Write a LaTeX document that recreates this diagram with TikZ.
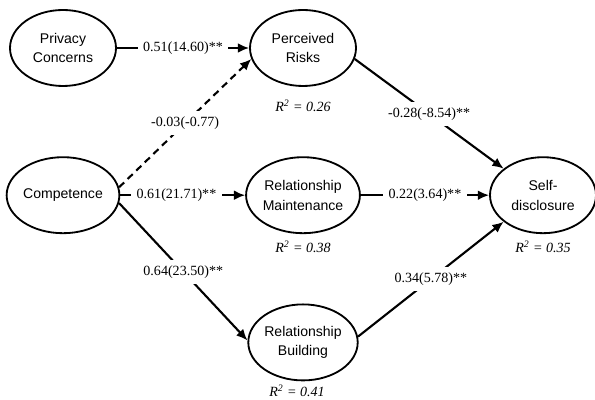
\documentclass[tikz,border=0pt]{standalone}
\usepackage{fontspec}
\setmainfont{Liberation Serif}
\setsansfont{Liberation Sans}
\usepackage{tikz}
\usetikzlibrary{arrows, arrows.meta, positioning, shapes.geometric}

\begin{document}
\begin{tikzpicture}[->,>={Latex[length=8pt,width=7pt]},node distance=6cm,line width=1.5pt]
 \tikzstyle{latent}=[ellipse,draw,line width=1.3pt,inner sep=0pt,minimum width=2.65cm,
   minimum height=1.9cm,align=center,font=\sffamily\fontsize{10}{14}\selectfont]
 \tikzstyle{coef}=[fill=white,inner sep=4pt,font=\fontsize{10}{12}\selectfont]
 \tikzstyle{rsq}=[font=\itshape\fontsize{10}{12}\selectfont]

 \useasboundingbox (0,0) rectangle (14.875,-10);

 \node[latent] (PC) at (1.575,-1.2) {Privacy\\Concerns};
 \node[latent] (C) [node distance=3.68cm, below of=PC] {Competence};
 \node[latent] (PR) [right of=PC] {Perceived\\Risks};
 \node[latent] (RM) [right of=C] {Relationship\\Maintenance};
 \node[latent] (RB) [node distance=3.68cm, below of=RM] {Relationship\\Building};
 \node[latent] (SD) [right of=RM] {Self-\\disclosure};

 \node[rsq] (PRr) [node distance=1.45cm, below of=PR] {R\textsuperscript{2} = 0.26};
 \node[rsq] (RMr) [node distance=1.28cm, below of=RM] {R\textsuperscript{2} = 0.38};
 \node[rsq] (SDr) [node distance=1.28cm, below of=SD] {R\textsuperscript{2} = 0.35};
 \node[rsq] (RBr) [node distance=1.22cm, below of=RB, xshift=-0.15cm] {R\textsuperscript{2} = 0.41};

 \path (PC) edge node[coef] {0.51(14.60)**} (PR)
       (C.8) edge [dash pattern=on 5pt off 3.5pt] node[coef] {-0.03(-0.77)} (PR.192)
       (C) edge node[coef,pos=0.45] {0.61(21.71)**} (RM)
       (C.-8) edge node[coef] {0.64(23.50)**} (RB.178)
       (PR.-12) edge node[coef] {-0.28(-8.54)**} (SD.146)
       (RM) edge node[coef] {0.22(3.64)**} (SD)
       (RB.6) edge node[coef] {0.34(5.78)**} (SD.214);
\end{tikzpicture}
\end{document}
